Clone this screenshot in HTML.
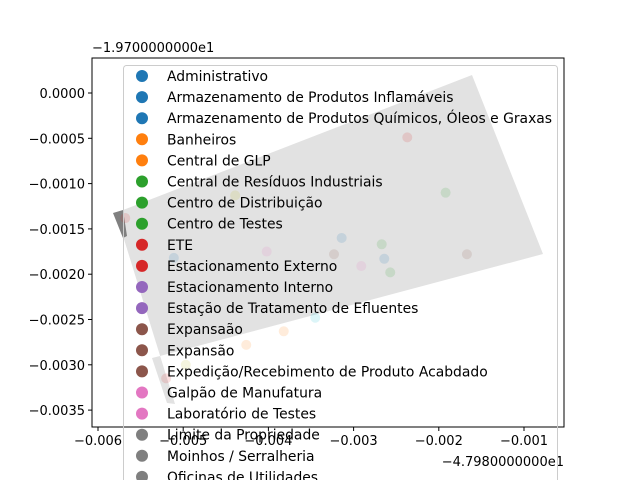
<!DOCTYPE html>
<html><head><meta charset="utf-8"><style>
body{margin:0;background:#fff}
svg{display:block;font-family:"DejaVu Sans","Liberation Sans",sans-serif}
</style></head><body>
<svg width="640" height="480">
<g id="plot"></g>
<g id="axes"></g>
<g id="legend"></g>
</svg>
<script>
const xTicks=[-0.006,-0.005,-0.004,-0.003,-0.002,-0.001];
const xTickLabels=["−0.006","−0.005","−0.004","−0.003","−0.002","−0.001"];
const yTicks=[0,-0.0005,-0.001,-0.0015,-0.002,-0.0025,-0.003,-0.0035];
const yTickLabels=["0.0000","−0.0005","−0.0010","−0.0015","−0.0020","−0.0025","−0.0030","−0.0035"];
const pointX=[-0.00568,-0.00439,-0.00192,-0.00314,-0.00267,-0.00167,-0.00323,-0.00402,-0.00291,-0.00264,-0.00257,-0.00345,-0.00382,-0.00426,-0.00497,-0.00520,-0.00511,-0.00237];
const pointY=[-0.00138,-0.00113,-0.00110,-0.00160,-0.00167,-0.00178,-0.00178,-0.00175,-0.00191,-0.00183,-0.00198,-0.00248,-0.00263,-0.00278,-0.00300,-0.00315,-0.00182,-0.00049];
const pointColors=["#d62728","#bcbd22","#2ca02c","#1f77b4","#2ca02c","#8c564b","#8c564b","#e377c2","#e377c2","#1f77b4","#2ca02c","#17becf","#ff7f0e","#ff7f0e","#bcbd22","#d62728","#1f77b4","#d62728"];
const legendLabels=["Administrativo","Armazenamento de Produtos Inflamáveis","Armazenamento de Produtos Químicos, Óleos e Graxas","Banheiros","Central de GLP","Central de Resíduos Industriais","Centro de Distribuição","Centro de Testes","ETE","Estacionamento Externo","Estacionamento Interno","Estação de Tratamento de Efluentes","Expansaão","Expansão","Expedição/Recebimento de Produto Acabdado","Galpão de Manufatura","Laboratório de Testes","Limite da Propriedade","Moinhos / Serralheria","Oficinas de Utilidades"];
const legendColors=["#1f77b4","#1f77b4","#1f77b4","#ff7f0e","#ff7f0e","#2ca02c","#2ca02c","#2ca02c","#d62728","#d62728","#9467bd","#9467bd","#8c564b","#8c564b","#8c564b","#e377c2","#e377c2","#7f7f7f","#7f7f7f","#7f7f7f"];

const NS="http://www.w3.org/2000/svg";
const L=92,R=564,T=58,B=427;
function xs(v){return 98+(v+0.006)/0.001*85.2;}
function ys(v){return 93-v/0.0005*45.3;}
function mk(tag,attrs,parent){const e=document.createElementNS(NS,tag);for(const k in attrs)e.setAttribute(k,attrs[k]);parent.appendChild(e);return e;}
const plot=document.getElementById('plot'),axes=document.getElementById('axes'),leg=document.getElementById('legend');

let p=mk('polygon',{points:"123,210 472,75 543,254 160,356 152,358 167,403 175,404 123,236",fill:"#e2e2e2"},plot);


let d=mk('polygon',{points:"113,213 123,210 127,236 123,238",fill:"#808080"},plot);


for(let i=0;i<pointX.length;i++){
  const c=mk('circle',{cx:xs(pointX[i]),cy:ys(pointY[i]),r:5,fill:pointColors[i],'fill-opacity':0.15},plot);
  
  
}
let fr=mk('rect',{x:L,y:T,width:R-L,height:B-T,fill:'none',stroke:'#000','stroke-width':1},axes);


for(let i=0;i<xTicks.length;i++){
  const x=xs(xTicks[i]);
  mk('line',{x1:x,x2:x,y1:B,y2:B+4,stroke:'#000'},axes);
  const t=mk('text',{x:x,y:B+18,'font-size':13,'text-anchor':'middle'},axes);t.textContent=xTickLabels[i];
  
  
}
for(let i=0;i<yTicks.length;i++){
  const y=ys(yTicks[i]);
  mk('line',{x1:L-4,x2:L,y1:y,y2:y,stroke:'#000'},axes);
  const t=mk('text',{x:L-7,y:y+5,'font-size':13,'text-anchor':'end'},axes);t.textContent=yTickLabels[i];
  
  
}
let o1=mk('text',{x:92,y:52,'font-size':13},axes);o1.textContent="−1.9700000000e1";


let o2=mk('text',{x:564,y:466,'font-size':13,'text-anchor':'end'},axes);o2.textContent="−4.7980000000e1";



let lb=mk('rect',{x:123.5,y:65.5,width:434,height:430,rx:3,fill:'#fff','fill-opacity':0.0,stroke:'#ccc'},leg);


for(let i=0;i<legendLabels.length;i++){
  const y=76+i*21.1;
  const c=mk('circle',{cx:142,cy:y,r:6,fill:legendColors[i]},leg);
  
  
  const t=mk('text',{x:167,y:y+5,'font-size':13.9},leg);t.textContent=legendLabels[i];
  
  
}
</script>
</body></html>
